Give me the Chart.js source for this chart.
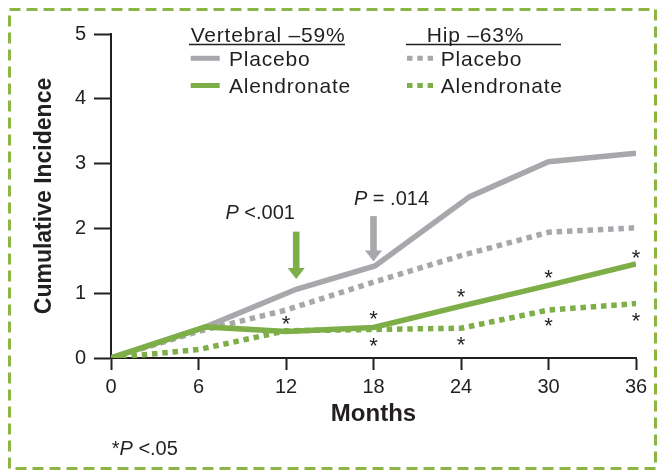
<!DOCTYPE html>
<html>
<head>
<meta charset="utf-8">
<script src="https://cdn.jsdelivr.net/npm/chart.js@4.4.0/dist/chart.umd.min.js"></script>
<style>
  html, body { margin: 0; padding: 0; background: #fff; }
</style>
</head>
<body>
<canvas id="myChart" width="663" height="473"></canvas>
<script>
// data (months, cumulative incidence %)
const months = [0, 6, 12, 18, 24, 30, 36];
const vertPlaceboMonths = [0, 6.5, 12.7, 18.1, 24.6, 30, 36];
const vertPlacebo = [0, 0.48, 1.06, 1.42, 2.49, 3.03, 3.16];
const vertAlendronateMonths = [0, 6.5, 12, 18, 24, 30, 36];
const vertAlendronate = [0, 0.48, 0.41, 0.47, 0.80, 1.12, 1.45];
const hipPlacebo = [0, 0.41, 0.74, 1.17, 1.58, 1.94, 2.01];
const hipAlendronate = [0, 0.13, 0.42, 0.44, 0.46, 0.74, 0.84];
const starMonths = [12, 18, 18, 24, 24, 30, 30, 36, 36];
const starValues = [0.61, 0.70, 0.28, 1.03, 0.30, 1.33, 0.58, 1.64, 0.67];
const xTicks = [0, 6, 12, 18, 24, 30, 36];
const yTicks = [0, 1, 2, 3, 4, 5];

const GREEN = '#7eae47';
const GRAY = '#a7a8ab';
const INK = '#231f20';
const FONT = '"Liberation Sans", Arial, sans-serif';

var ctx = document.getElementById('myChart');

function pts(xs, ys) {
  return xs.map((x, i) => ({ x: x, y: ys[i] }));
}

// text with some italic parts, cy = middle of the capitals
function mixedText(c, parts, x, cy, size, align) {
  let total = 0;
  parts.forEach(p => {
    c.font = (p[1] ? 'italic ' : '') + size + 'px ' + FONT;
    total += c.measureText(p[0]).width;
  });
  let cur = align === 'center' ? x - total / 2 : x;
  c.textAlign = 'left';
  c.textBaseline = 'alphabetic';
  parts.forEach(p => {
    c.font = (p[1] ? 'italic ' : '') + size + 'px ' + FONT;
    c.fillText(p[0], cur, cy + size * 0.36);
    cur += c.measureText(p[0]).width;
  });
}

function arrow(c, x, yTop, yTip, color) {
  const head = 11, half = 8.5, shaft = 3.3;
  c.fillStyle = color;
  c.fillRect(x - shaft, yTop, shaft * 2, yTip - head - yTop + 1);
  c.beginPath();
  c.moveTo(x - half, yTip - head);
  c.lineTo(x + half, yTip - head);
  c.lineTo(x, yTip);
  c.closePath();
  c.fill();
}

const extras = {
  id: 'extras',
  beforeDraw(chart) {
    const c = chart.ctx;
    c.save();
    c.fillStyle = '#fff';
    c.fillRect(0, 0, chart.width, chart.height);
    c.setLineDash([11, 6]);
    c.strokeStyle = '#8db544';
    c.lineWidth = 3;
    c.strokeRect(9.5, 9.5, 646, 459);
    c.restore();
  },
  afterDatasetsDraw(chart) {
    const c = chart.ctx;
    const xs = chart.scales.x, ys = chart.scales.y;
    c.save();
    // significance asterisks
    c.fillStyle = INK;
    c.font = '22px ' + FONT;
    c.textAlign = 'center';
    c.textBaseline = 'alphabetic';
    starMonths.forEach((m, i) => {
      c.fillText('*', xs.getPixelForValue(m), ys.getPixelForValue(starValues[i]) + 13);
    });
    // arrows + p values
    arrow(c, xs.getPixelForValue(12.7), ys.getPixelForValue(1.95), ys.getPixelForValue(1.22), GREEN);
    arrow(c, xs.getPixelForValue(18), ys.getPixelForValue(2.19), ys.getPixelForValue(1.49), GRAY);
    c.fillStyle = INK;
    mixedText(c, [['P', true], [' <.001', false]], xs.getPixelForValue(12.7) - 36, ys.getPixelForValue(1.95) - 20, 20, 'center');
    mixedText(c, [['P', true], [' = .014', false]], xs.getPixelForValue(18) + 18, ys.getPixelForValue(2.19) - 18, 20, 'center');
    c.restore();
  },
  afterDraw(chart) {
    const c = chart.ctx;
    c.save();
    c.fillStyle = INK;
    c.strokeStyle = INK;
    c.letterSpacing = '0.8px';
    // legend headers
    mixedText(c, [['Vertebral \u201359%', false]], 190.7, 34, 21, 'left');
    mixedText(c, [['Hip \u201363%', false]], 426.7, 34, 21, 'left');
    c.lineWidth = 1.5;
    c.beginPath();
    c.moveTo(189, 44.5); c.lineTo(345, 44.5);
    c.moveTo(406, 44.5); c.lineTo(561, 44.5);
    c.stroke();
    // legend rows
    const rows = [
      { x: 190.7, w: 29, y: 58.3, color: GRAY, dash: [], text: 'Placebo' },
      { x: 190.7, w: 29, y: 85.5, color: GREEN, dash: [], text: 'Alendronate' },
      { x: 407, w: 26, y: 58.3, color: GRAY, dash: [5.5, 4.8], text: 'Placebo' },
      { x: 407, w: 26, y: 85.5, color: GREEN, dash: [5.5, 4.8], text: 'Alendronate' }
    ];
    rows.forEach(r => {
      c.save();
      c.strokeStyle = r.color;
      c.lineWidth = 5;
      c.lineCap = 'butt';
      c.setLineDash(r.dash);
      c.beginPath();
      c.moveTo(r.x, r.y); c.lineTo(r.x + r.w, r.y);
      c.stroke();
      c.restore();
      mixedText(c, [[r.text, false]], r.dash.length ? 440.7 : 229, r.y, 21, 'left');
    });
    c.letterSpacing = '0px';
    // footnote
    mixedText(c, [['*', false], ['P', true], [' <.05', false]], 111.7, 447.3, 20, 'left');
    c.restore();
  }
};

var myChart = new Chart(ctx, {
  type: 'line',
  data: {
    datasets: [
      { label: 'Vertebral Alendronate', data: pts(vertAlendronateMonths, vertAlendronate), borderColor: GREEN },
      { label: 'Hip Alendronate', data: pts(months, hipAlendronate), borderColor: GREEN, borderDash: [5.5, 4.8] },
      { label: 'Vertebral Placebo', data: pts(vertPlaceboMonths, vertPlacebo), borderColor: GRAY },
      { label: 'Hip Placebo', data: pts(months, hipPlacebo), borderColor: GRAY, borderDash: [5.5, 4.8] }
    ]
  },
  options: {
    responsive: false,
    animation: false,
    layout: { padding: { left: 0, right: 27, top: 34, bottom: 0 } },
    elements: {
      point: { radius: 0 },
      line: { tension: 0, fill: false, borderWidth: 5.5, borderCapStyle: 'butt', borderJoinStyle: 'miter' }
    },
    plugins: {
      legend: { display: false },
      tooltip: { enabled: false }
    },
    scales: {
      x: {
        type: 'linear',
        min: 0,
        max: 36,
        afterBuildTicks: s => { s.ticks = xTicks.map(v => ({ value: v })); },
        afterFit: s => { s.height = 115; },
        grid: { drawOnChartArea: false, tickLength: 12, tickWidth: 2, color: INK },
        border: { color: INK, width: 2 },
        ticks: { color: INK, font: { family: FONT, size: 20 }, padding: 5, maxRotation: 0 },
        title: {
          display: true,
          text: 'Months',
          color: INK,
          font: { family: FONT, size: 24, weight: 'bold' },
          padding: { top: 0, bottom: 44 }
        }
      },
      y: {
        min: 0,
        max: 5,
        afterBuildTicks: s => { s.ticks = yTicks.map(v => ({ value: v })); },
        afterFit: s => { s.width = 111; },
        grid: { drawOnChartArea: false, tickLength: 17, tickWidth: 2, color: INK },
        border: { color: INK, width: 2 },
        ticks: { color: INK, font: { family: FONT, size: 20 }, padding: 8 },
        title: {
          display: true,
          text: 'Cumulative Incidence',
          color: INK,
          font: { family: FONT, size: 23, weight: 'bold' },
          padding: { top: 31, bottom: 0 }
        }
      }
    }
  },
  plugins: [extras]
});
</script>
</body>
</html>
